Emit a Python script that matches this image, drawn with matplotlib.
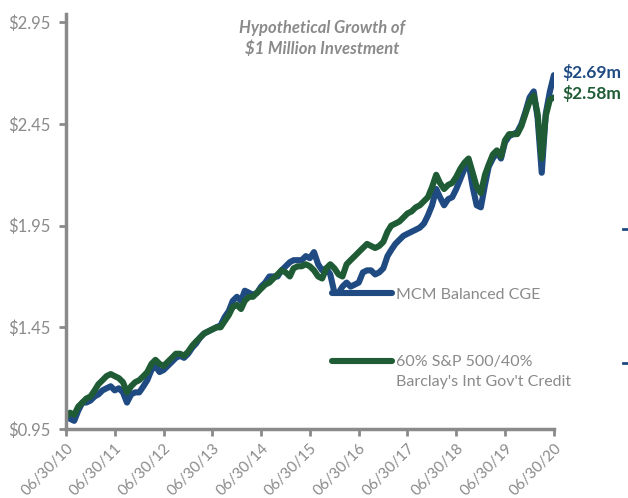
import matplotlib
matplotlib.use("Agg")
import matplotlib.pyplot as plt
from matplotlib.lines import Line2D
import pandas as pd

# month-end values, $ millions, 06/30/10 .. 06/30/20
dates = pd.date_range("2010-06-30", "2020-06-30", freq="ME")

mcm = [1.01, 1.00, 0.99, 1.04, 1.08, 1.08, 1.09, 1.11, 1.12, 1.14, 1.15, 1.16,
       1.14, 1.15, 1.13, 1.08, 1.12, 1.13, 1.13, 1.16, 1.19, 1.24, 1.26, 1.23,
       1.24, 1.26, 1.28, 1.30, 1.31, 1.30, 1.32, 1.35, 1.37, 1.40, 1.42, 1.43,
       1.44, 1.45, 1.46, 1.50, 1.53, 1.58, 1.60, 1.58, 1.63, 1.62, 1.61, 1.62,
       1.65, 1.67, 1.70, 1.70, 1.70, 1.73, 1.75, 1.77, 1.78, 1.78, 1.78, 1.80,
       1.79, 1.82, 1.76, 1.73, 1.74, 1.71, 1.62, 1.62, 1.65, 1.67, 1.65, 1.66,
       1.67, 1.72, 1.73, 1.73, 1.71, 1.72, 1.74, 1.80, 1.83, 1.86, 1.88, 1.90,
       1.91, 1.92, 1.93, 1.94, 1.96, 2.00, 2.05, 2.13, 2.09, 2.05, 2.08, 2.09,
       2.13, 2.18, 2.23, 2.26, 2.14, 2.05, 2.04, 2.15, 2.24, 2.28, 2.31, 2.28,
       2.36, 2.39, 2.40, 2.41, 2.45, 2.51, 2.58, 2.61, 2.48, 2.21, 2.50, 2.61,
       2.69]

bench = [1.01, 1.03, 1.02, 1.06, 1.08, 1.10, 1.11, 1.14, 1.17, 1.19, 1.21, 1.22,
         1.21, 1.20, 1.18, 1.13, 1.16, 1.18, 1.19, 1.21, 1.23, 1.27, 1.29, 1.27,
         1.26, 1.28, 1.30, 1.32, 1.32, 1.31, 1.33, 1.36, 1.38, 1.40, 1.42, 1.43,
         1.44, 1.45, 1.45, 1.48, 1.51, 1.55, 1.56, 1.54, 1.58, 1.60, 1.60, 1.62,
         1.64, 1.66, 1.67, 1.69, 1.71, 1.73, 1.72, 1.70, 1.74, 1.75, 1.75, 1.76,
         1.75, 1.73, 1.70, 1.69, 1.74, 1.76, 1.74, 1.71, 1.70, 1.76, 1.78, 1.80,
         1.82, 1.84, 1.86, 1.85, 1.84, 1.85, 1.87, 1.92, 1.95, 1.96, 1.97, 1.99,
         2.01, 2.02, 2.04, 2.05, 2.07, 2.09, 2.14, 2.20, 2.16, 2.13, 2.15, 2.16,
         2.19, 2.23, 2.26, 2.28, 2.21, 2.14, 2.11, 2.20, 2.25, 2.30, 2.32, 2.29,
         2.37, 2.40, 2.40, 2.40, 2.44, 2.50, 2.56, 2.59, 2.50, 2.28, 2.49, 2.57,
         2.58]

yticks = [0.95, 1.45, 1.95, 2.45, 2.95]
xtick_dates = pd.date_range("2010-06-30", "2020-06-30", freq="12ME")

blue = "#1F4A82"
green = "#1F5C36"
gray = "#8A8A8A"
LW = 4.4

plt.rcParams["font.family"] = ["Lato", "DejaVu Sans"]

fig = plt.figure(figsize=(6.28, 4.98), dpi=100)
ax = fig.add_axes([0.105, 0.1386, 0.777, 0.833])

ax.plot(dates, mcm, color=blue, lw=LW, solid_capstyle="round", solid_joinstyle="round")
ax.plot(dates, bench, color=green, lw=LW, solid_capstyle="round", solid_joinstyle="round")

ax.set_xlim(dates[0], dates[-1])
ax.set_ylim(0.95, 2.99)
ax.set_yticks(yticks)
ax.set_yticklabels(["${:.2f}".format(v) for v in yticks])
ax.set_xticks(xtick_dates)
ax.set_xticklabels([d.strftime("%m/%d/%y") for d in xtick_dates],
                   rotation=45, ha="right", rotation_mode="anchor")

for s in ["top", "right"]:
    ax.spines[s].set_visible(False)
for s in ["left", "bottom"]:
    ax.spines[s].set_color(gray)
    ax.spines[s].set_linewidth(2.5)
ax.tick_params(colors=gray, labelcolor=gray, width=2, length=5)
ax.tick_params(axis="y", labelsize=12, pad=6)
ax.tick_params(axis="x", labelsize=11, pad=4)

fig.text(322 / 628, 1 - 20 / 498, "Hypothetical Growth of\n$1 Million Investment",
         ha="center", va="top", color=gray,
         fontsize=12, fontweight="bold", fontstyle="italic", linespacing=1.3)

ax.annotate("$2.69m", xy=(dates[-1], mcm[-1]), xytext=(6, 2), textcoords="offset points",
            color=blue, fontsize=12.5, fontweight="bold", va="center", annotation_clip=False)
ax.annotate("$2.58m", xy=(dates[-1], bench[-1]), xytext=(6, 3), textcoords="offset points",
            color=green, fontsize=12.5, fontweight="bold", va="center", annotation_clip=False)

# hand-placed legend
lx0, lx1, tx = 332 / 628, 392 / 628, 396 / 628
fig.add_artist(Line2D([lx0, lx1], [1 - 293 / 498] * 2, color=blue, lw=LW, solid_capstyle="round"))
fig.text(tx, 1 - 295 / 498, "MCM Balanced CGE", color=gray, fontsize=11.5, va="center")
fig.add_artist(Line2D([lx0, lx1], [1 - 361 / 498] * 2, color=green, lw=LW, solid_capstyle="round"))
fig.text(tx, 1 - 355 / 498, "60% S&P 500/40%\nBarclay's Int Gov't Credit", color=gray,
         fontsize=11.5, va="top", linespacing=1.55)

# stray tick marks at the right edge
for yy in [229, 363]:
    fig.add_artist(Line2D([623 / 628, 628 / 628], [1 - yy / 498] * 2, color=blue, lw=2))

fig.savefig("out.png", dpi=100)
